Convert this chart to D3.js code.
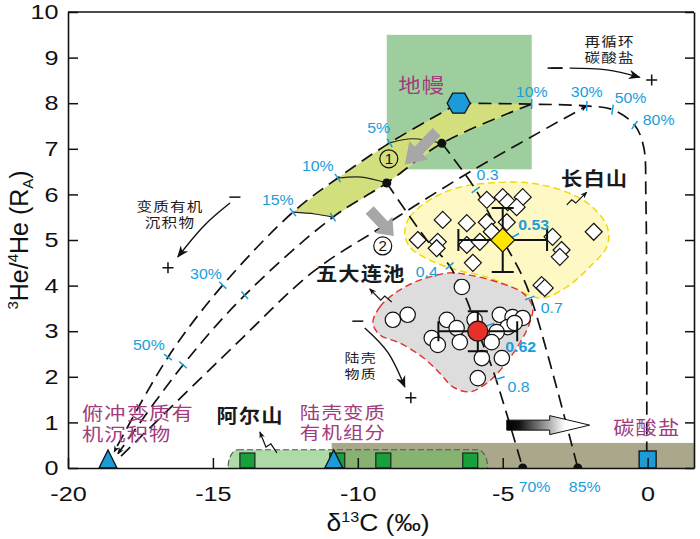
<!DOCTYPE html>
<html>
<head>
<meta charset="utf-8">
<script src="https://cdn.jsdelivr.net/npm/d3@7"></script>
<style>
  body { margin: 0; background: #fff; }
  svg { display: block; }
</style>
</head>
<body>
<svg id="chart" width="700" height="539"></svg>
<script>
// axes
const xTicks = [-20, -15, -10, -5, 0];
const yTicks = [0, 1, 2, 3, 4, 5, 6, 7, 8, 9, 10];

// end members  [δ13C, 3He/4He]
const mantle = [-6.52, 8.0];
const subductedOrganic = [-18.62, 0];
const crustOrganic = [-10.83, 0];
const carbonate = [0, 0];
const arxanSquares = [-13.81, -10.71, -9.12, -6.12];

// Changbaishan samples
const changbai = [
  [-5.55, 5.88], [-5.0, 5.94], [-4.83, 5.83], [-4.31, 5.94], [-4.52, 5.72],
  [-7.07, 5.44], [-6.24, 5.37], [-5.55, 5.39], [-4.86, 5.39], [-7.93, 5.0],
  [-7.24, 4.96], [-7.28, 4.82], [-6.24, 4.89], [-5.79, 4.96], [-5.38, 5.18],
  [-3.28, 5.07], [-2.97, 4.78], [-3.03, 4.63], [-1.86, 5.18], [-6.03, 4.50],
  [-3.66, 4.01], [-3.55, 3.95]
];
const changbaiMean = [-5.0, 5.0];
const changbaiErr = [1.53, 0.7];

// Wudalianchi samples
const wudalianchi = [
  [-6.41, 3.97], [-8.79, 3.25], [-8.28, 3.36], [-6.93, 3.25], [-6.59, 3.07],
  [-7.45, 2.85], [-7.24, 2.70], [-6.48, 2.76], [-5.97, 3.25], [-5.10, 3.36],
  [-4.66, 3.31], [-4.31, 3.29], [-4.83, 3.09], [-5.21, 2.98], [-5.38, 2.76],
  [-5.72, 2.41], [-5.03, 2.41], [-5.86, 1.97], [-4.59, 3.18]
];
const wudalianchiMean = [-5.86, 3.0];
const wudalianchiErr = [1.36, 0.44];

// mixing curves
const lineA = [[-6.52, 8.0], [-8.90, 7.13], [-10.69, 6.36], [-12.24, 5.61], [-14.66, 4.01], [-16.55, 2.43], [-18.41, 0.35]];
const lineB = [[-4.0, 7.98], [-7.1, 7.12], [-9.0, 6.25], [-10.86, 5.5], [-13.9, 3.79], [-16.03, 2.26], [-18.28, 0.31]];
const lineC = [[-2.1, 7.94], [-6.14, 6.49], [-9.24, 5.26], [-11.55, 4.30], [-14.31, 2.65], [-18.17, 0.26]];
const lineM = [[-6.52, 8.0], [-4.0, 7.98], [-2.1, 7.94], [-1.21, 7.86], [-0.45, 7.52], [-0.14, 7.05], [-0.06, 5.9], [-0.03, 0.38]];
const path85 = [[-7.1, 7.12], [-5.93, 6.10], [-5.0, 5.0], [-4.34, 4.23], [-4.0, 3.68], [-3.21, 1.93], [-2.41, 0]];
const path70 = [[-9.0, 6.25], [-7.62, 5.0], [-6.83, 4.43], [-6.24, 3.68], [-5.86, 3.0], [-5.34, 2.15], [-4.31, 0]];
const contour5 = [[-8.9, 7.13], [-8.1, 7.22], [-7.1, 7.12]];
const contour10 = [[-10.69, 6.36], [-9.86, 6.38], [-9.0, 6.25]];
const contour15 = [[-12.24, 5.61], [-11.48, 5.57], [-10.86, 5.5]];

// blue tick marks on the curves
const ticksA = [[-8.90, 7.13], [-10.69, 6.36], [-12.24, 5.61], [-14.66, 4.01], [-16.55, 2.43]];
const ticksB = [[-7.1, 7.12], [-9.0, 6.25], [-10.86, 5.5], [-13.9, 3.79], [-16.03, 2.26]];
const ticksM = [[-4.0, 7.98], [-2.1, 7.94], [-1.21, 7.86], [-0.45, 7.52]];
const ticks85 = [[-5.93, 6.10], [-4.59, 5.09], [-4.07, 3.73]];
const ticks70 = [[-6.83, 4.43], [-5.45, 3.14], [-5.10, 1.97]];

// regions
const mantleBox = [[-9, 6.55], [-4, 9.5]];
const carbonateBand = [[-10.9, 0], [1.6, 0.55]];
const arxanBox = [[-14.48, 0], [-5.52, 0.4]];
const changbaiArea = [
  [-8.38, 5.18], [-8.21, 5.50], [-7.52, 5.88], [-6.59, 6.14], [-5.45, 6.25], [-4.07, 6.25],
  [-2.79, 6.05], [-1.90, 5.72], [-1.38, 5.26], [-1.41, 4.85], [-2.0, 4.41], [-2.79, 3.97],
  [-3.62, 3.73], [-4.31, 3.84], [-5.10, 4.08], [-5.79, 4.23], [-6.59, 4.34], [-7.52, 4.56], [-8.21, 4.85]
];
const wudalianchiArea = [
  [-9.48, 3.18], [-9.24, 3.53], [-8.66, 3.86], [-7.86, 4.12], [-6.83, 4.28], [-6.14, 4.23],
  [-5.10, 4.06], [-4.31, 3.84], [-3.97, 3.53], [-4.07, 3.18], [-4.41, 2.74], [-5.0, 2.21],
  [-5.55, 1.86], [-6.14, 1.67], [-6.72, 1.78], [-7.17, 2.08], [-7.76, 2.43], [-8.55, 2.74], [-9.24, 2.92]
];

// arrows and signs
const arrowSediment = [[-14.41, 5.81], [-15.28, 5.33], [-16.21, 4.63]];
const arrowCrust = [[-9.76, 3.07], [-8.97, 2.54], [-8.38, 1.78]];
const arrowRecycled = [[-2.69, 8.77], [-1.41, 8.73], [-0.28, 8.57]];
const dashRecycled = [[-3.45, 8.77], [-2.93, 8.77]];
const squiggleArxan = [[-12.79, 0.33], [-13.0, 0.53], [-13.17, 0.46], [-13.38, 0.79]];
const squiggleChangbai = [[-2.79, 5.77], [-2.62, 5.88], [-2.48, 5.81], [-2.10, 6.05]];
const squiggleWuda = [[-8.83, 3.64], [-9.07, 3.77], [-9.21, 3.68], [-9.59, 3.93]];
const minusSigns = [[-14.24, 5.94], [-10.0, 3.22], [-3.14, 8.77]];
const plusSigns = [[-16.55, 4.39], [-8.17, 1.54], [0.14, 8.51]];
const grayArrow1 = [[-7.28, 7.37], [-8.38, 6.65]];
const grayArrow2 = [[-9.59, 5.66], [-8.76, 5.09]];
const shiftArrow = [[-4.86, 0.94], [-2.0, 0.94]];
const endDots = [[-7.1, 7.12], [-9.0, 6.25], [-4.31, 0], [-2.41, 0]];

// labels (multi-line labels: first baseline at p, next lines lead px below)
const purpleLabels = [
  { t: ["地幔"], p: [-7.79, 8.22], size: 20, sx: 1.12 },
  { t: ["俯冲变质有", "机沉积物"], p: [-19.52, 1.06], size: 18, lead: 21, a: "start", sx: 1.18 },
  { t: ["陆壳变质", "有机组分"], p: [-12.0, 1.08], size: 17, lead: 20, a: "start", sx: 1.2 },
  { t: ["碳酸盐"], p: [-0.03, 0.72], size: 19, sx: 1.12 }
];
const blackLabels = [
  { t: ["长白山"], p: [-1.83, 6.18], size: 19, bold: true, sx: 1.12 },
  { t: ["五大连池"], p: [-9.9, 4.10], size: 19, bold: true, sx: 1.12 },
  { t: ["阿尔山"], p: [-13.72, 0.99], size: 19, bold: true, sx: 1.12 },
  { t: ["再循环", "碳酸盐"], p: [-1.31, 9.26], size: 13, lead: 16, sx: 1.2 },
  { t: ["变质有机", "沉积物"], p: [-16.48, 5.63], size: 13, lead: 16, sx: 1.2 },
  { t: ["陆壳", "物质"], p: [-9.9, 2.30], size: 12.5, lead: 15.5, sx: 1.2 }
];
const blueLabels = [
  { t: ["5%"], p: [-9.28, 7.35] }, { t: ["10%"], p: [-11.38, 6.51] }, { t: ["15%"], p: [-12.76, 5.77] },
  { t: ["30%"], p: [-15.24, 4.14] }, { t: ["50%"], p: [-17.21, 2.59] },
  { t: ["10%"], p: [-4.0, 8.14] }, { t: ["30%"], p: [-2.1, 8.14] }, { t: ["50%"], p: [-0.59, 8.0] },
  { t: ["80%"], p: [0.38, 7.52] },
  { t: ["0.3"], p: [-5.52, 6.32] }, { t: ["0.53"], p: [-3.93, 5.22], bold: true },
  { t: ["0.4"], p: [-7.62, 4.19] }, { t: ["0.7"], p: [-3.31, 3.40] },
  { t: ["0.62"], p: [-4.38, 2.54], bold: true }, { t: ["0.8"], p: [-4.45, 1.67] },
  { t: ["70%"], p: [-3.90, -0.53] }, { t: ["85%"], p: [-2.17, -0.53] }
];
const circledLabels = [{ t: "1", p: [-8.93, 6.78] }, { t: "2", p: [-9.14, 4.87] }];

const LATIN = "'Liberation Sans', Arial, sans-serif";
const CJK = "'Noto Sans CJK SC', 'Noto Sans', sans-serif";
const BLUE = "#1a9ddb", PURPLE = "#a13c7c";

const x = d3.scaleLinear().domain([-20, 1.6]).range([68, 694]);
const y = d3.scaleLinear().domain([0, 10]).range([468, 12]);
const P = d => [x(d[0]), y(d[1])];

const svg = d3.select("#chart");
const defs = svg.append("defs");
defs.append("clipPath").attr("id", "plot")
  .append("rect").attr("x", 68).attr("y", 12).attr("width", 626).attr("height", 456);
defs.append("marker").attr("id", "head").attr("viewBox", "0 0 10 10")
  .attr("refX", 9).attr("refY", 5).attr("markerWidth", 7).attr("markerHeight", 7)
  .attr("markerUnits", "userSpaceOnUse").attr("orient", "auto")
  .append("path").attr("d", "M0,1 L10,5 L0,9 L3,5 z").attr("fill", "#111");
defs.append("marker").attr("id", "headBig").attr("viewBox", "0 0 10 10")
  .attr("refX", 9).attr("refY", 5).attr("markerWidth", 12).attr("markerHeight", 12)
  .attr("markerUnits", "userSpaceOnUse").attr("orient", "auto")
  .append("path").attr("d", "M0,1 L10,5 L0,9 L3,5 z").attr("fill", "#111");
const grad = defs.append("linearGradient").attr("id", "shift").attr("gradientUnits", "userSpaceOnUse")
  .attr("x1", x(shiftArrow[0][0])).attr("x2", x(shiftArrow[1][0])).attr("y1", 0).attr("y2", 0);
grad.append("stop").attr("offset", "0").attr("stop-color", "#000");
grad.append("stop").attr("offset", "0.15").attr("stop-color", "#111");
grad.append("stop").attr("offset", "0.7").attr("stop-color", "#fff");

const smooth = d3.line().x(d => x(d[0])).y(d => y(d[1])).curve(d3.curveCatmullRom.alpha(0.5));
const straight = d3.line().x(d => x(d[0])).y(d => y(d[1]));
const closed = d3.line().x(d => x(d[0])).y(d => y(d[1])).curve(d3.curveCatmullRomClosed.alpha(0.5));

const plot = svg.append("g").attr("clip-path", "url(#plot)");

// background regions
plot.append("rect")
  .attr("x", x(mantleBox[0][0])).attr("y", y(mantleBox[1][1]))
  .attr("width", x(mantleBox[1][0]) - x(mantleBox[0][0]))
  .attr("height", y(mantleBox[0][1]) - y(mantleBox[1][1]))
  .attr("fill", "#9fce9e");
plot.append("rect")
  .attr("x", x(carbonateBand[0][0])).attr("y", y(carbonateBand[1][1]))
  .attr("width", x(carbonateBand[1][0]) - x(carbonateBand[0][0]))
  .attr("height", y(0) - y(carbonateBand[1][1]))
  .attr("fill", "#aaa78b");
const capH = y(0) - y(arxanBox[1][1]);
plot.append("rect")
  .attr("x", x(arxanBox[0][0])).attr("y", y(arxanBox[1][1]))
  .attr("width", x(arxanBox[1][0]) - x(arxanBox[0][0])).attr("height", capH * 2)
  .attr("rx", capH * 0.55).attr("ry", capH)
  .attr("fill", "rgb(105,188,95)").attr("fill-opacity", 0.55)
  .attr("stroke", "#555").attr("stroke-width", 1.1).attr("stroke-dasharray", "6,3");

// mantle-sediment band
const band = lineA.slice(0, 4).concat([contour15[1]], lineB.slice(0, 4).reverse());
plot.append("path").attr("d", straight(band) + "Z").attr("fill", "#d3df7c");

plot.append("path").attr("d", closed(changbaiArea))
  .attr("fill", "#fdf8c4").attr("stroke", "#f2d600").attr("stroke-width", 1.4).attr("stroke-dasharray", "7,4");
plot.append("path").attr("d", closed(wudalianchiArea))
  .attr("fill", "#dddddd").attr("stroke", "#e2302b").attr("stroke-width", 1.4).attr("stroke-dasharray", "7,4");

// dashed mixing curves
const dash = "13,7";
[lineA, lineB].forEach(l => {
  plot.append("path").attr("d", smooth(l)).attr("fill", "none").attr("stroke", "#111")
    .attr("stroke-width", 1.7).attr("stroke-dasharray", dash).attr("marker-end", "url(#head)");
});
plot.append("path").attr("d", smooth(lineC.slice().reverse())).attr("fill", "none").attr("stroke", "#111")
  .attr("stroke-width", 1.7).attr("stroke-dasharray", dash).attr("marker-end", "url(#head)");
[lineM, path85, path70].forEach(l => {
  plot.append("path").attr("d", smooth(l)).attr("fill", "none").attr("stroke", "#111")
    .attr("stroke-width", 1.7).attr("stroke-dasharray", dash);
});
[contour5, contour10, contour15].forEach(l => {
  plot.append("path").attr("d", smooth(l)).attr("fill", "none").attr("stroke", "#222").attr("stroke-width", 1.2);
});

// blue ticks across the curves
function tickMark(line, pt, len) {
  const p = P(pt);
  let best = null, bd = Infinity;
  for (let i = 0; i < line.length - 1; i++) {
    const a = P(line[i]), b = P(line[i + 1]);
    const dx = b[0] - a[0], dy = b[1] - a[1];
    let t = ((p[0] - a[0]) * dx + (p[1] - a[1]) * dy) / (dx * dx + dy * dy);
    t = Math.max(0, Math.min(1, t));
    const dd = Math.hypot(p[0] - a[0] - t * dx, p[1] - a[1] - t * dy);
    if (dd < bd) { bd = dd; best = [dx, dy]; }
  }
  const L = Math.hypot(best[0], best[1]);
  const nx = -best[1] / L * len, ny = best[0] / L * len;
  plot.append("line").attr("x1", p[0] - nx).attr("y1", p[1] - ny)
    .attr("x2", p[0] + nx).attr("y2", p[1] + ny)
    .attr("stroke", BLUE).attr("stroke-width", 1.5);
}
ticksA.forEach(t => tickMark(lineA, t, 5));
ticksB.forEach(t => tickMark(lineB, t, 5));
ticksM.forEach(t => tickMark(lineM, t, 5));
ticks85.forEach(t => tickMark(path85, t, 5));
ticks70.forEach(t => tickMark(path70, t, 5));

// black curved arrows
[arrowSediment, arrowCrust, arrowRecycled].forEach(l => {
  plot.append("path").attr("d", smooth(l)).attr("fill", "none").attr("stroke", "#111")
    .attr("stroke-width", 1.4).attr("marker-end", "url(#headBig)");
});
plot.append("path").attr("d", straight(dashRecycled)).attr("stroke", "#111").attr("stroke-width", 1.6);
[squiggleArxan, squiggleChangbai, squiggleWuda].forEach(l => {
  plot.append("path").attr("d", straight(l)).attr("fill", "none").attr("stroke", "#111")
    .attr("stroke-width", 1.2).attr("marker-end", "url(#head)");
});
minusSigns.forEach(s => {
  const p = P(s);
  plot.append("line").attr("x1", p[0] - 5.5).attr("x2", p[0] + 5.5).attr("y1", p[1]).attr("y2", p[1])
    .attr("stroke", "#111").attr("stroke-width", 1.5);
});
plusSigns.forEach(s => {
  const p = P(s);
  plot.append("path").attr("d", `M${p[0] - 5.5},${p[1]}H${p[0] + 5.5}M${p[0]},${p[1] - 5.5}V${p[1] + 5.5}`)
    .attr("stroke", "#111").attr("stroke-width", 1.5);
});

// block arrows
function blockArrow(seg, sw, hw, hl, fill, stroke) {
  const a = P(seg[0]), b = P(seg[1]);
  const dx = b[0] - a[0], dy = b[1] - a[1], L = Math.hypot(dx, dy);
  const ux = dx / L, uy = dy / L, nx = -uy, ny = ux;
  const hx = b[0] - ux * hl, hy = b[1] - uy * hl;
  const pts = [
    [a[0] + nx * sw / 2, a[1] + ny * sw / 2], [hx + nx * sw / 2, hy + ny * sw / 2],
    [hx + nx * hw / 2, hy + ny * hw / 2], b,
    [hx - nx * hw / 2, hy - ny * hw / 2], [hx - nx * sw / 2, hy - ny * sw / 2],
    [a[0] - nx * sw / 2, a[1] - ny * sw / 2]
  ];
  plot.append("path").attr("d", "M" + pts.map(p => p.join(",")).join("L") + "Z")
    .attr("fill", fill).attr("stroke", stroke || "none").attr("stroke-width", 1);
}
blockArrow(grayArrow1, 11, 26, 20, "#a7a7a7");
blockArrow(grayArrow2, 11, 24, 15, "#a7a7a7");
blockArrow(shiftArrow, 10, 19, 40, "url(#shift)", "#111");

// circled numbers
circledLabels.forEach(c => {
  const p = P(c.p);
  plot.append("circle").attr("cx", p[0]).attr("cy", p[1]).attr("r", 9)
    .attr("fill", "none").attr("stroke", "#111").attr("stroke-width", 1.2);
  plot.append("text").attr("x", p[0]).attr("y", p[1] + 5.5).attr("text-anchor", "middle")
    .attr("font-family", LATIN).attr("font-size", 15).attr("fill", "#111").text(c.t);
});

// samples
const diamond = r => `M0,${-r}L${r},0L0,${r}L${-r},0Z`;
plot.selectAll(".cbs").data(changbai).join("path")
  .attr("transform", d => `translate(${x(d[0])},${y(d[1])})`)
  .attr("d", diamond(8.5)).attr("fill", "#fff").attr("stroke", "#111").attr("stroke-width", 1.2);
plot.selectAll(".wds").data(wudalianchi).join("circle")
  .attr("cx", d => x(d[0])).attr("cy", d => y(d[1])).attr("r", 7.7)
  .attr("fill", "#fff").attr("stroke", "#111").attr("stroke-width", 1.2);

function errorCross(m, e, cap) {
  const g = plot.append("g").attr("stroke", "#111").attr("stroke-width", 2).attr("fill", "none");
  const cx = x(m[0]), cy = y(m[1]);
  const x0 = x(m[0] - e[0]), x1 = x(m[0] + e[0]), y0 = y(m[1] + e[1]), y1 = y(m[1] - e[1]);
  g.append("path").attr("d",
    `M${x0},${cy}H${x1}M${cx},${y0}V${y1}` +
    `M${x0},${cy - cap}V${cy + cap}M${x1},${cy - cap}V${cy + cap}` +
    `M${cx - cap},${y0}H${cx + cap}M${cx - cap},${y1}H${cx + cap}`);
}
errorCross(changbaiMean, changbaiErr, 11);
errorCross(wudalianchiMean, wudalianchiErr, 10);
plot.append("path").attr("transform", `translate(${x(changbaiMean[0])},${y(changbaiMean[1])})`)
  .attr("d", diamond(12)).attr("fill", "#ffe600").attr("stroke", "#111").attr("stroke-width", 1.2);
plot.append("circle").attr("cx", x(wudalianchiMean[0])).attr("cy", y(wudalianchiMean[1])).attr("r", 10)
  .attr("fill", "#e8302a").attr("stroke", "#111").attr("stroke-width", 1.2);

// end-member symbols
const mp = P(mantle);
plot.append("path").attr("transform", `translate(${mp[0]},${mp[1]})`)
  .attr("d", "M-11.5,0L-6,-10L6,-10L11.5,0L6,10L-6,10Z")
  .attr("fill", "#1b9bd7").attr("stroke", "#111").attr("stroke-width", 1.3);
arxanSquares.forEach(v => {
  plot.append("rect").attr("x", x(v) - 7.5).attr("y", y(0) - 15).attr("width", 15).attr("height", 15)
    .attr("fill", "#18a03c").attr("stroke", "#222").attr("stroke-width", 1.2);
});
[subductedOrganic, crustOrganic].forEach(d => {
  const p = P(d);
  plot.append("path").attr("d", `M${p[0] - 9},${p[1]}L${p[0]},${p[1] - 18}L${p[0] + 9},${p[1]}Z`)
    .attr("fill", "#1b9bd7").attr("stroke", "#111").attr("stroke-width", 1.3);
});
const cp = P(carbonate);
plot.append("rect").attr("x", cp[0] - 8.5).attr("y", cp[1] - 17).attr("width", 17).attr("height", 17)
  .attr("fill", "#1b9bd7").attr("stroke", "#111").attr("stroke-width", 1.3);
endDots.forEach(d => {
  plot.append("circle").attr("cx", x(d[0])).attr("cy", y(d[1])).attr("r", 4.5).attr("fill", "#111");
});

// labels
function label(d, opts) {
  const p = P(d.p);
  const txt = svg.append("text")
    .attr("transform", `translate(${p[0]},${p[1]}) scale(${d.sx || opts.sx},1)`)
    .attr("text-anchor", d.a || "middle")
    .attr("font-family", opts.font).attr("font-size", d.size || opts.size)
    .attr("font-weight", d.bold ? "bold" : "normal")
    .attr("letter-spacing", opts.ls || 0)
    .attr("fill", opts.color);
  d.t.forEach((line, i) => {
    txt.append("tspan").attr("x", 0).attr("dy", i === 0 ? 0 : d.lead).text(line);
  });
  return txt;
}
purpleLabels.forEach(d => label(d, { sx: 1.12, font: CJK, color: PURPLE, ls: 1 }));
blackLabels.forEach(d => label(d, { sx: 1.12, font: CJK, color: "#1a1a1a", ls: 1 }));
blueLabels.forEach(d => label(d, { sx: 1.06, font: LATIN, color: BLUE, size: 15 }));

// axes
const fmt = d => String(d);
const gx = svg.append("g").attr("transform", `translate(0,${y(0)})`)
  .call(d3.axisBottom(x).tickValues(xTicks).tickSizeInner(-10).tickSizeOuter(0).tickPadding(18).tickFormat(fmt));
const gy = svg.append("g").attr("transform", `translate(${x(-20)},0)`)
  .call(d3.axisLeft(y).tickValues(yTicks).tickSizeInner(-10).tickSizeOuter(0).tickPadding(8).tickFormat(fmt));
const gr = svg.append("g").attr("transform", `translate(${x(1.6)},0)`)
  .call(d3.axisRight(y).tickValues(yTicks).tickSizeInner(-9).tickSizeOuter(0).tickFormat(() => ""));
[gx, gy, gr].forEach(g => {
  g.selectAll("path.domain").attr("stroke", "#111").attr("stroke-width", 1.6);
  g.selectAll(".tick line").attr("stroke", "#111").attr("stroke-width", 1.5);
  g.selectAll("text").attr("font-family", LATIN).attr("font-size", 21).attr("fill", "#111")
    .attr("transform", "scale(1.2,1)");
});
svg.append("line").attr("x1", x(-20)).attr("x2", x(1.6)).attr("y1", y(10)).attr("y2", y(10))
  .attr("stroke", "#111").attr("stroke-width", 1.6);

// axis titles
const xt = svg.append("text").attr("transform", `translate(${x(-9.3)},531) scale(1.15,1)`)
  .attr("text-anchor", "middle").attr("font-family", LATIN).attr("font-size", 23).attr("fill", "#111");
xt.append("tspan").text("δ");
xt.append("tspan").attr("font-size", 14).attr("dy", -9).text("13");
xt.append("tspan").attr("dy", 9).text("C (‰)");

const yt = svg.append("text").attr("transform", `translate(28,${y(5.0)}) rotate(-90)`)
  .attr("text-anchor", "middle").attr("font-family", LATIN).attr("font-size", 25).attr("fill", "#111");
yt.append("tspan").attr("font-size", 15).attr("dy", -10).text("3");
yt.append("tspan").attr("dy", 10).text("He/");
yt.append("tspan").attr("font-size", 15).attr("dy", -10).text("4");
yt.append("tspan").attr("dy", 10).text("He (R");
yt.append("tspan").attr("font-size", 15).attr("dy", 5).text("A");
yt.append("tspan").attr("dy", -5).text(")");
</script>
</body>
</html>
